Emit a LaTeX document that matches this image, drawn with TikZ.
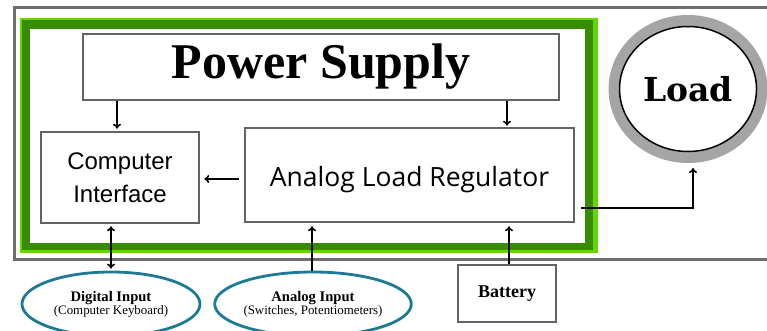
\documentclass[tikz,border=0pt]{standalone}
\usepackage{fontspec}
\setmainfont{Liberation Serif}
\newfontfamily\arialfont{Liberation Sans}
\newfontfamily\uifont{Open Sans}
\newfontfamily\loadfont{DejaVu Serif}
\usetikzlibrary{arrows.meta,calc,positioning,shapes.geometric}
\definecolor{framegray}{RGB}{110,110,110}
\definecolor{boxgray}{RGB}{100,100,100}
\definecolor{ringgray}{RGB}{165,165,165}
\definecolor{greenlite}{RGB}{100,215,0}
\definecolor{greendark}{RGB}{56,140,0}
\definecolor{inteal}{RGB}{28,122,150}

\begin{document}
\begin{tikzpicture}[x=1pt,y=-1pt,>={To[length=5pt,width=8pt]},
  box/.style={draw=boxgray,line width=2.5pt,inner sep=0pt,align=center},
  inputell/.style={ellipse,draw=inteal,line width=2.8pt,inner sep=0pt,align=center},
  wire/.style={line width=1.6pt}]
  \clip (0,0) rectangle (767,331);
  \fill[white] (0,0) rectangle (767,331);
  % outer frame and green board
  \draw[framegray,line width=3pt] (14,8) rectangle (790,259);
  \fill[greenlite] (20,18) rectangle (598,253);
  \fill[greendark] (22,20) rectangle (593,250);
  \fill[white] (30,29) rectangle (585,243);
  % blocks
  \node[box,minimum width=476pt,minimum height=66pt,font=\bfseries\fontsize{50}{56}\selectfont] (psu) at (321,67) {Power Supply};
  \node[box,minimum width=158pt,minimum height=91pt,font=\arialfont\fontsize{24}{33}\selectfont] (cif) at (120,177.5) {Computer\\Interface};
  \node[box,minimum width=329pt,minimum height=94pt,text depth=1pt,font=\uifont\fontsize{26.5}{30}\selectfont] (alr) at (409.5,175) {\raisebox{-3pt}{Analog Load Regulator}};
  \node[box,minimum width=98pt,minimum height=57pt,font=\bfseries\fontsize{18}{20}\selectfont] (batt) at (507,293.5) {Battery};
  \node[ellipse,draw=ringgray,line width=11pt,minimum width=148pt,minimum height=137pt] (load) at (688,89) {};
  \node[ellipse,draw,line width=1.5pt,minimum width=137pt,minimum height=125pt,font=\loadfont\bfseries\fontsize{33}{36}\selectfont] (loadin) at (load) {Load};
  \node[inputell,minimum width=178pt,minimum height=64pt] (din) at (111,304)
    {{\bfseries\fontsize{14.6}{14}\selectfont Digital Input}\\{\fontsize{12.9}{14}\selectfont(Computer Keyboard)}};
  \node[inputell,minimum width=170pt,minimum height=64pt] (ain) at (313,304)
    {{\bfseries\fontsize{14.6}{14}\selectfont Analog Input}\\{\fontsize{12.9}{14}\selectfont(Switches, Potentiometers)}};
  % connections
  \draw[wire,->] ([xshift=-3pt]cif.north |- psu.south) -- ([xshift=-3pt,yshift=2pt]cif.north);
  \draw[wire,->] (psu.south -| batt.north) -- ([yshift=1pt]alr.north -| batt.north);
  \draw[wire,->] ([xshift=-5pt,yshift=-4pt]alr.west) -- ([xshift=4pt,yshift=-1.5pt]cif.east);
  \draw[wire,->] ([xshift=6pt,yshift=-33pt]alr.east) -| ([xshift=5pt,yshift=-5pt]load.south);
  \draw[wire,<->] ([yshift=-2pt]cif.south -| din.north) -- ([yshift=2pt]din.north);
  \draw[wire,->] ([xshift=-1pt]ain.north) -- ([xshift=-1pt,yshift=-3pt]ain.north |- alr.south);
  \draw[wire,->] ([xshift=2pt]batt.north) -- ([xshift=2pt,yshift=-3pt]batt.north |- alr.south);
\end{tikzpicture}
\end{document}
